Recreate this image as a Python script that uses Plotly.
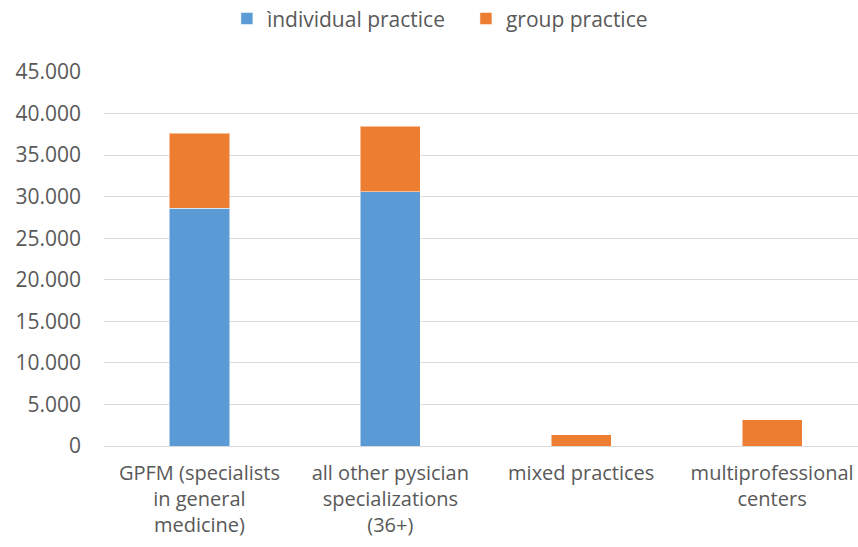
import plotly.graph_objects as go

categories = [
    "GPFM (specialists<br>in general<br>medicine)",
    "all other pysician<br>specializations<br>(36+)",
    "mixed practices",
    "multiprofessional<br>centers",
]
individual = [28600, 30600, 0, 0]
group = [9050, 7900, 1350, 3150]
y_ticks = [0, 5000, 10000, 15000, 20000, 25000, 30000, 35000, 40000, 45000]

FONT = "Open Sans"
TXT = "#595959"
FS = 21

fig = go.Figure()
fig.add_trace(go.Bar(
    x=categories, y=individual, name="ìndividual practice",
    marker=dict(color="#5B9BD5", line=dict(color="rgba(255,255,255,0.5)", width=1)),
    width=0.315, legend="legend",
))
fig.add_trace(go.Bar(
    x=categories, y=group, name="group practice",
    marker=dict(color="#ED7D31", line=dict(color="rgba(255,255,255,0.5)", width=1)),
    width=0.315, legend="legend2",
))

leg_common = dict(orientation="h", y=1.142, yanchor="middle", xanchor="left",
                  font=dict(family=FONT, size=21, color=TXT), itemwidth=30,
                  bgcolor="rgba(0,0,0,0)")

fig.update_layout(
    barmode="stack",
    width=858, height=547,
    margin=dict(l=104, r=0, t=72, b=101, autoexpand=False),
    paper_bgcolor="white", plot_bgcolor="white",
    separators=",.",
    font=dict(family=FONT, size=FS, color=TXT),
    showlegend=True,
    legend=dict(x=0.163, **leg_common),
    legend2=dict(x=0.48, **leg_common),
)
fig.update_xaxes(
    type="category", range=[-0.5, 3.45], automargin=False,
    showgrid=False, showline=True, linecolor="#d9d9d9", linewidth=1,
    tickfont=dict(family=FONT, size=20, color=TXT), ticklabelstandoff=9,
)
fig.update_yaxes(
    range=[0, 45000], tickvals=y_ticks, tickformat=",", automargin=False,
    showgrid=True, gridcolor="#d9d9d9", gridwidth=1, zeroline=False,
    showline=False, ticklabelstandoff=22,
    tickfont=dict(family=FONT, size=FS, color=TXT),
)

fig.write_html(
    "out.html",
    config={"displayModeBar": False},
    post_script="document.body.style.margin='0';document.body.style.overflow='hidden';",
)
